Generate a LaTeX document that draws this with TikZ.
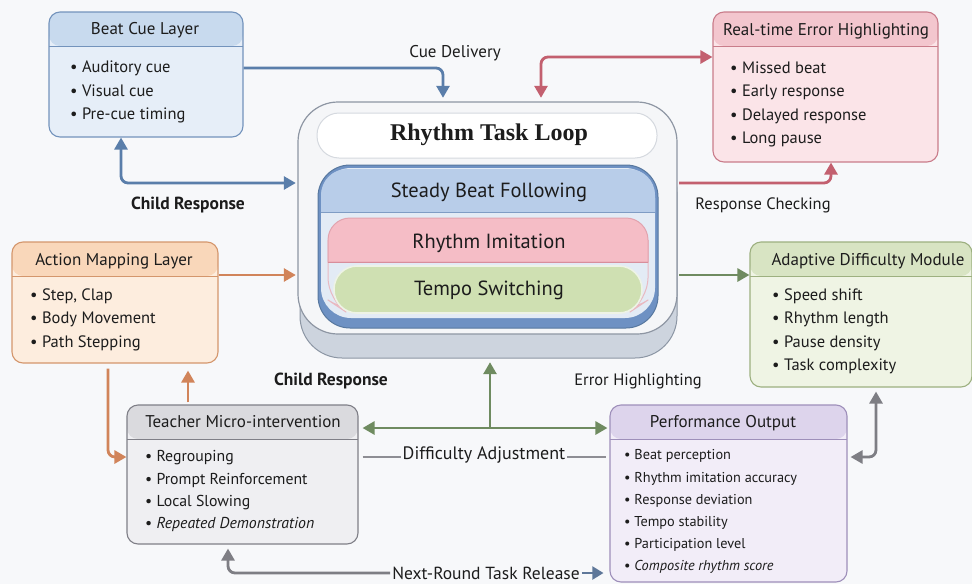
\documentclass[tikz,border=0pt]{standalone}
\usepackage{fontspec}
\setmainfont{PT Sans}
\newfontfamily\titleserif{Liberation Serif}
\usetikzlibrary{arrows.meta}

\definecolor{bg}{HTML}{F7F8FA}
\definecolor{ink}{HTML}{1C1C1C}
% blue
\definecolor{bBd}{HTML}{7393BC}\definecolor{bHd}{HTML}{C8DAEE}\definecolor{bBy}{HTML}{E6EEF8}\definecolor{bAr}{HTML}{5A7EAA}
% pink
\definecolor{pBd}{HTML}{C97C8A}\definecolor{pHd}{HTML}{F3C6CE}\definecolor{pBy}{HTML}{FBE4E8}\definecolor{pAr}{HTML}{C3606F}
% orange
\definecolor{oBd}{HTML}{D4966C}\definecolor{oHd}{HTML}{F9D7BA}\definecolor{oBy}{HTML}{FDEDDE}\definecolor{oAr}{HTML}{D1845A}
% green
\definecolor{gBd}{HTML}{9DB080}\definecolor{gHd}{HTML}{D8E4C3}\definecolor{gBy}{HTML}{EFF4E4}\definecolor{gAr}{HTML}{6F8B60}
% gray
\definecolor{kBd}{HTML}{7F7F87}\definecolor{kHd}{HTML}{DADADE}\definecolor{kBy}{HTML}{EFEFF2}\definecolor{kAr}{HTML}{7E7E84}
\definecolor{kLn}{HTML}{8E8E94}
% purple
\definecolor{vBd}{HTML}{9E8FBA}\definecolor{vHd}{HTML}{DDD4EC}\definecolor{vBy}{HTML}{F2EDF8}
% cylinder
\definecolor{cyBaseF}{HTML}{CDD4DE}\definecolor{cyBaseD}{HTML}{8C96A4}
\definecolor{cyBodyF}{HTML}{F5F6F8}\definecolor{cyBodyD}{HTML}{8E96A3}
\definecolor{cyTopD}{HTML}{D5D9DF}
\definecolor{cyTrayF}{HTML}{6E91C3}\definecolor{cyTrayD}{HTML}{58789F}
\definecolor{cyTrayIn}{HTML}{E3EBF5}
\definecolor{cyBlueF}{HTML}{B8CDE9}\definecolor{cyBlueL}{HTML}{7F9CC4}
\definecolor{cyPinkO}{HTML}{E9B9C1}\definecolor{cyPinkF}{HTML}{F5BDC6}\definecolor{cyPinkD}{HTML}{E2A3AE}\definecolor{cyPinkL}{HTML}{D88E9B}
\definecolor{cyGreenF}{HTML}{CFE0B2}\definecolor{cyGreenD}{HTML}{EEF3E6}
\definecolor{nextArr}{HTML}{5E7799}

\tikzset{
  panel/.style n args={3}{draw=#1, fill=#3, line width=1.1pt, rounded corners=11pt,
    inner sep=0pt,
    path picture={
      \fill[#2] ([yshift=-34pt]path picture bounding box.north west) rectangle (path picture bounding box.north east);
      \draw[#1, line width=1pt] ([yshift=-34pt]path picture bounding box.north west) -- ([yshift=-34pt]path picture bounding box.north east);
    }},
  htitle/.style={font=\fontsize{17}{20}\selectfont, text=ink, inner sep=0pt},
  item/.style={anchor=base west, inner sep=0pt, font=\fontsize{16.5}{19}\selectfont, text=ink},
  lbl/.style={font=\fontsize{16.5}{19}\selectfont, text=ink, inner sep=1pt},
  boldlbl/.style={font=\bfseries\fontsize{17.5}{20}\selectfont, text=ink, inner sep=1pt},
  tip/.tip={Triangle[length=12pt, width=13pt]},
  conn/.style={line width=2.8pt, rounded corners=7pt, color=#1, -tip},
  twoway/.style={line width=2.8pt, rounded corners=7pt, color=#1, tip-tip},
  band/.style={font=\fontsize{20.5}{23}\selectfont, text=ink, inner sep=0pt}
}

\newcommand\blt[5][]{\node[item,#1] (#2) at (#3,#4) {\textbullet\ #5};}

\begin{document}
\begin{tikzpicture}[x=1pt, y=-1pt]
\useasboundingbox (0,0) rectangle (972,584);
\fill[bg] (0,0) rectangle (972,584);

% ---------- central rhythm task loop (cylinder) ----------
\node[inner sep=0pt, minimum width=383pt, minimum height=264pt] (cyl) at (487.5,230) {};
\filldraw[fill=cyBaseF, draw=cyBaseD, line width=1pt, rounded corners=42pt]
  (300,150) rectangle (677,358);
\filldraw[fill=cyBodyF, draw=cyBodyD, line width=1.2pt, rounded corners=40pt]
  (298,102) rectangle (677,334);
\filldraw[fill=white, draw=cyTopD, line width=1pt, rounded corners=22pt]
  (317,113) rectangle (657,158);
\node[font=\titleserif\bfseries\fontsize{24}{26}\selectfont, text=ink, inner sep=0pt] (looptitle) at (489,135) {Rhythm Task Loop};

\filldraw[fill=cyTrayF, draw=cyTrayD, line width=1pt, rounded corners=32pt]
  (318,165) rectangle (658,328);
\fill[cyTrayIn, rounded corners=30pt] (321,168) rectangle (655,318);
\fill[cyBlueF, rounded corners=26pt] (321,212) -- (321,169) -- (655,169) [sharp corners] -- (655,212) -- cycle;
\draw[cyBlueL, line width=1pt] (321,212) -- (655,212);
\draw[cyPinkO, line width=1pt, rounded corners=22pt] (328,240) -- (328,300) -- (346,312) -- (630,312) -- (648,300) -- (648,240);
\filldraw[fill=cyPinkF, draw=cyPinkD, line width=1pt, rounded corners=22pt]
  (328,262) -- (328,218) -- (648,218) [sharp corners] -- (648,262) -- cycle;
\draw[cyPinkL, line width=1pt] (328,262) -- (648,262);
\filldraw[fill=cyGreenF, draw=cyGreenD, line width=1.6pt, rounded corners=23pt]
  (334,266) rectangle (642,313);
\node[band] (sbf) at (489,192) {Steady Beat Following};
\node[band] (rim) at (489,243) {Rhythm Imitation};
\node[band] (tsw) at (489,290) {Tempo Switching};

% ---------- side panels ----------
\node[panel={bBd}{bHd}{bBy}, minimum width=194pt, minimum height=125pt] (bc) at (146,74.5) {};
\node[htitle] (bct) at (145,30) {Beat Cue Layer};
\blt{bc1}{70}{72}{Auditory cue}
\blt{bc2}{70}{96}{Visual cue}
\blt{bc3}{70}{119}{Pre-cue timing}

\node[panel={pBd}{pHd}{pBy}, minimum width=225pt, minimum height=150pt] (re) at (825.5,87) {};
\node[htitle] (ret) at (826,31) {Real-time Error Highlighting};
\blt{re1}{730}{73}{Missed beat}
\blt{re2}{730}{96}{Early response}
\blt{re3}{730}{120}{Delayed response}
\blt{re4}{730}{143}{Long pause}

\node[panel={oBd}{oHd}{oBy}, minimum width=206pt, minimum height=121pt] (am) at (115,302.5) {};
\node[htitle] (amt) at (114,261) {Action Mapping Layer};
\blt{am1}{30}{300}{Step, Clap}
\blt{am2}{30}{323}{Body Movement}
\blt{am3}{30}{347}{Path Stepping}

\node[panel={gBd}{gHd}{gBy}, minimum width=222pt, minimum height=145pt] (ad) at (861,314.5) {};
\node[htitle] (adt) at (868,261) {Adaptive Difficulty Module};
\blt{ad1}{772}{300}{Speed shift}
\blt{ad2}{772}{323}{Rhythm length}
\blt{ad3}{772}{347}{Pause density}
\blt{ad4}{772}{370}{Task complexity}

\node[panel={kBd}{kHd}{kBy}, minimum width=231pt, minimum height=139pt] (tm) at (242.5,474.5) {};
\node[htitle] (tmt) at (243,422) {Teacher Micro-intervention};
\blt[font=\fontsize{15.8}{18}\selectfont]{tm1}{145}{461}{Regrouping}
\blt[font=\fontsize{15.8}{18}\selectfont]{tm2}{145}{484}{Prompt Reinforcement}
\blt[font=\fontsize{15.8}{18}\selectfont]{tm3}{145}{506}{Local Slowing}
\blt[font=\fontsize{15.8}{18}\selectfont]{tm4}{145}{528}{\itshape Repeated Demonstration}

\node[panel={vBd}{vHd}{vBy}, minimum width=237pt, minimum height=177pt] (po) at (728.5,493.5) {};
\node[htitle] (pot) at (723,423) {Performance Output};
\blt[font=\fontsize{14.3}{17}\selectfont]{po1}{624}{459}{Beat perception}
\blt[font=\fontsize{14.3}{17}\selectfont]{po2}{624}{482}{Rhythm imitation accuracy}
\blt[font=\fontsize{14.3}{17}\selectfont]{po3}{624}{504}{Response deviation}
\blt[font=\fontsize{14.3}{17}\selectfont]{po4}{624}{526}{Tempo stability}
\blt[font=\fontsize{14.3}{17}\selectfont]{po5}{624}{548}{Participation level}
\blt[font=\fontsize{14.3}{17}\selectfont]{po6}{624}{570}{\itshape Composite rhythm score}

% ---------- connector labels ----------
\node[lbl, font=\fontsize{17}{19}\selectfont] (lcue) at (455,53) {Cue Delivery};
\node[boldlbl] (lchild1) at (188,205) {Child Response};
\node[lbl] (lcheck) at (763,205) {Response Checking};
\node[boldlbl] (lchild2) at (331,381) {Child Response};
\node[lbl] (lerr) at (638,381) {Error Highlighting};
\node[lbl, font=\fontsize{18}{20}\selectfont, inner sep=2pt] (ldiff) at (484,455) {Difficulty Adjustment};
\node[lbl, font=\fontsize{17.5}{20}\selectfont, inner sep=2pt] (lnext) at (486,573) {Next-Round Task Release};

% ---------- connectors ----------
\draw[conn=bAr] (bc.east |- 0,68) -| (cyl.north -| 443,0);
\draw[twoway=bAr] (bc.south -| 121,0) |- (cyl.west |- 0,183);

\draw[twoway=pAr] (cyl.north -| 541,0) |- (re.west |- 0,57);
\draw[conn=pAr] (cyl.east |- 0,183) -| (re.south -| 831,0);

\draw[conn=oAr] (am.east |- 0,275) -- (cyl.west |- 0,275);
\draw[conn=gAr] (cyl.east |- 0,275) -- (ad.west |- 0,275);

\draw[conn=oAr] ([yshift=-5pt]am.south -| 108,0) |- (tm.west |- 0,457);
\draw[conn=oAr] ([yshift=2pt]tm.north -| 188,0) -- ([yshift=-7pt]am.south -| 188,0);

\draw[line width=2.8pt, color=gAr, tip-] (cyl.south -| 490,0) -- (490,428);
\draw[twoway=gAr] ([xshift=4pt]tm.east |- 0,428) -- ([xshift=-2pt]po.west |- 0,428);

\draw[line width=2.8pt, color=kLn] ([xshift=4pt]tm.east |- 0,457) -- (ldiff.west |- 0,457);
\draw[line width=2.8pt, color=kLn] (ldiff.east |- 0,457) -- ([xshift=-3pt]po.west |- 0,457);

\draw[conn=kAr, tip-] ([yshift=-4pt]tm.south -| 228,0) |- (lnext.west);
\draw[line width=2pt, color=nextArr, -{Triangle[length=11pt, width=13pt]}] (lnext.east) -- ([xshift=-6pt]po.west |- lnext.east);

\draw[twoway=kAr] ([yshift=-4pt]ad.south -| 876,0) |- ([xshift=3pt]po.east |- 0,457);
\end{tikzpicture}
\end{document}
